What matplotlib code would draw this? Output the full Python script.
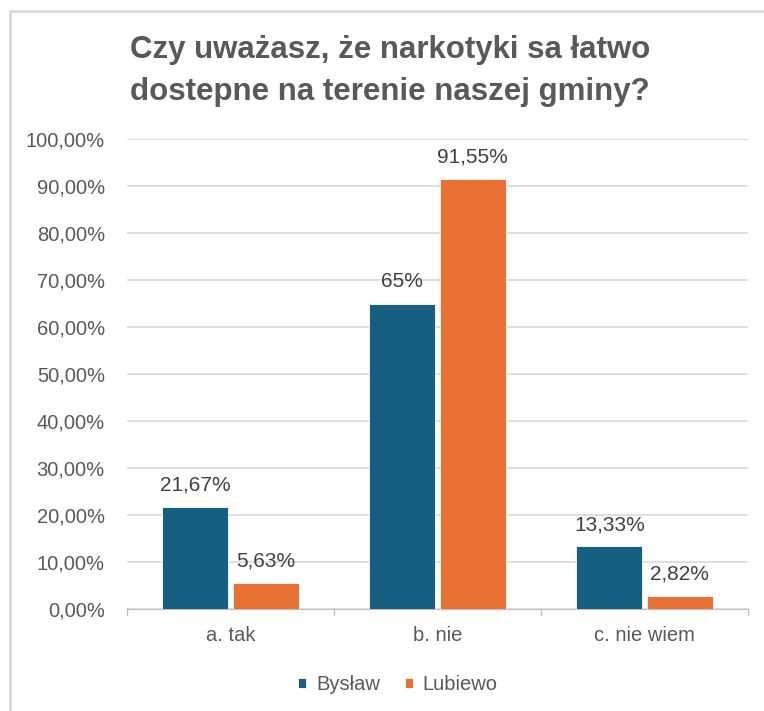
import matplotlib.pyplot as plt
import numpy as np
from matplotlib.patches import Rectangle

categories = ['a. tak', 'b. nie', 'c. nie wiem']
byslaw = [21.67, 65.00, 13.33]
lubiewo = [5.63, 91.55, 2.82]
byslaw_labels = ['21,67%', '65%', '13,33%']
lubiewo_labels = ['5,63%', '91,55%', '2,82%']
yticks = np.arange(0, 101, 10)

plt.rcParams['font.family'] = ['Liberation Sans', 'DejaVu Sans']
grey = '#595959'
fs = 14.5

fig = plt.figure(figsize=(7.64, 7.11), dpi=100)
ax = fig.add_axes([127 / 764, 1 - 609 / 711, 621 / 764, 470 / 711])

# outer chart border (extends past the image on right/bottom)
fig.patches.append(Rectangle((10 / 764, -0.1), 1.2, 1 - 11 / 711 + 0.1,
                             transform=fig.transFigure, fill=False,
                             edgecolor='#d9d9d9', linewidth=2))

x = np.arange(len(categories))
w = 0.32
b1 = ax.bar(x - w / 2 - 0.01, byslaw, w, color='#156082', edgecolor='white',
            linewidth=0.6, label='Bysław', zorder=3)
b2 = ax.bar(x + w / 2 + 0.01, lubiewo, w, color='#E97132', edgecolor='white',
            linewidth=0.6, label='Lubiewo', zorder=3)

for bars, labels in [(b1, byslaw_labels), (b2, lubiewo_labels)]:
    for rect, lab in zip(bars, labels):
        ax.text(rect.get_x() + rect.get_width() / 2, rect.get_height() + 2.6, lab,
                ha='center', va='bottom', fontsize=15, color='#404040', zorder=4)

ax.set_xlim(-0.5, 2.5)
ax.set_ylim(0, 100)
ax.set_yticks(yticks)
ax.set_yticklabels([f'{v},00%' for v in yticks], color=grey, fontsize=fs)
ax.set_xticks(x)
ax.set_xticklabels(categories, color=grey, fontsize=fs)
ax.tick_params(axis='x', length=0, pad=12)
ax.tick_params(axis='y', length=0, pad=16)
# category separator ticks
for xb in [-0.5, 0.5, 1.5, 2.5]:
    ax.plot([xb, xb], [0, -1.2], color='#bfbfbf', lw=1, clip_on=False)

ax.grid(axis='y', color='#d9d9d9', linewidth=1.2, zorder=0)
for s in ['top', 'right', 'left']:
    ax.spines[s].set_visible(False)
ax.spines['bottom'].set_color('#bfbfbf')

fig.text(390 / 764, 1 - 71 / 711, 'Czy uważasz, że narkotyki sa łatwo\ndostepne na terenie naszej gminy?',
         ha='center', va='center', fontsize=22.5, fontweight='bold', color=grey,
         linespacing=1.55)

leg_x = (398 - 127) / 621
ax.legend(loc='center', bbox_to_anchor=(leg_x, (685 - 609) / -470), ncol=2,
          frameon=False, fontsize=fs, labelcolor=grey, handlelength=0.4,
          handleheight=0.4, handletextpad=0.5, columnspacing=1.2)

fig.savefig('out.png', dpi=100)
